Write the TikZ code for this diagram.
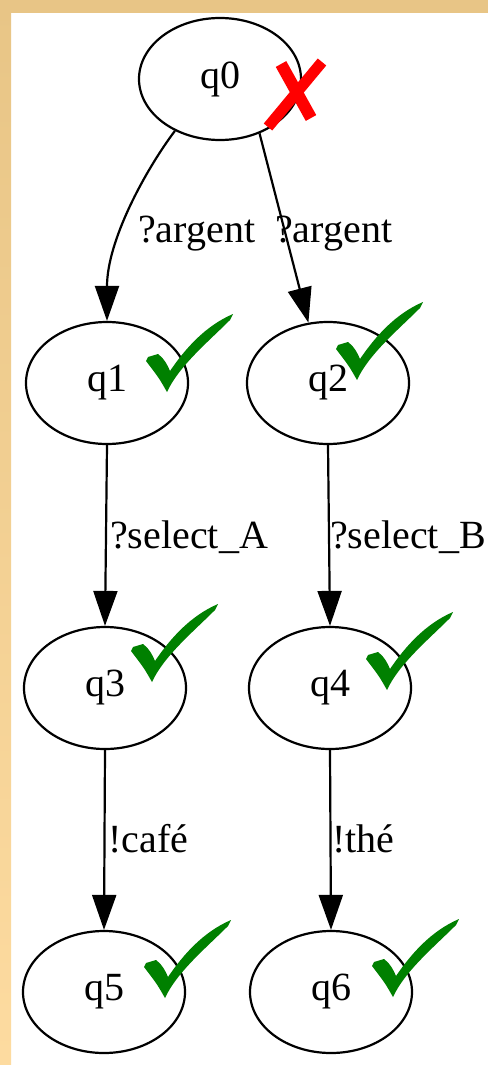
\documentclass[tikz,border=0pt]{standalone}
\usepackage{fontspec}
\setmainfont{Liberation Serif}
\usetikzlibrary{shapes.geometric,arrows.meta,calc}
\definecolor{frametop}{HTML}{E8C586}
\definecolor{framebot}{HTML}{FDDBA0}
\definecolor{okgreen}{HTML}{008000}
\begin{document}
\begin{tikzpicture}[
      x=1pt, y=-1pt,
      state/.style={ellipse, draw, line width=2.2pt, minimum width=162pt,
        minimum height=122pt, inner sep=0pt, font=\fontsize{40}{48}\selectfont},
      trans/.style={line width=2.2pt, -{Triangle[length=35pt,width=24pt]}},
      lbl/.style={anchor=base west, inner sep=0pt, font=\fontsize{40}{48}\selectfont},
    ]
    % Helper macro: \okmark{node}{dx}{dy} -- green tick, (dx,dy) = its lowest point
    \newcommand{\okmark}[3]{%
      \fill[okgreen] ($(#1)+(#2,#3)$) .. controls +(-8,-14) .. ++(-21,-31)
        -- ++(2,-4) .. controls +(5,-2) .. ++(10,-3)
        .. controls +(6,4) and +(-2,-5) .. ++(12,17)
        .. controls +(15,-22) and +(-28,12) .. ++(63,-57)
        -- ++(-3,6) .. controls +(-22,22) and +(12,-26) .. ++(-63,72) -- cycle;
    }

    % Frame
    \useasboundingbox (0,0) rectangle (488,1065);
    \fill[white] (0,0) rectangle (488,1065);
    \shade[top color=frametop, bottom color=framebot] (0,0) rectangle (11,1065);
    \fill[frametop] (0,0) rectangle (488,13);

    % States
    \node[state] (q0) at (220,79)  {q0};
    \node[state] (q1) at (107,383) {q1};
    \node[state] (q2) at (328,383) {q2};
    \node[state] (q3) at (105,688) {q3};
    \node[state] (q4) at (330,688) {q4};
    \node[state] (q5) at (104,992) {q5};
    \node[state] (q6) at (331,992) {q6};

    % Transitions
    \draw[trans] (q0.229) .. controls +(-30,40) and +(0,-80) .. (q1.north);
    \draw[trans] (q0.306) -- (q2.108);
    \draw[trans] (q1.south) -- (q3.north);
    \draw[trans] (q2.south) -- (q4.north);
    \draw[trans] (q3.south) -- (q5.north);
    \draw[trans] (q4.south) -- (q6.north);

    % Labels
    \node[lbl] (l01) at (138,242) {?argent};
    \node[lbl] (l02) at (275,242) {?argent};
    \node[lbl] (l13) at (110,548) {?select\_A};
    \node[lbl] (l24) at (330,548) {?select\_B};
    \node[lbl] (l35) at (108,852) {!café};
    \node[lbl] (l46) at (332,852) {!thé};

    % Marks
    \draw[red, line width=12pt] (281,64) -- (311,118);
    \draw[red, line width=11pt] (322,62) -- (268,127);
    \okmark{q1}{60}{9}
    \okmark{q2}{29}{-3}
    \okmark{q3}{47}{-6}
    \okmark{q4}{57}{2}
    \okmark{q5}{61}{6}
    \okmark{q6}{62}{5}
  \end{tikzpicture}
\end{document}
